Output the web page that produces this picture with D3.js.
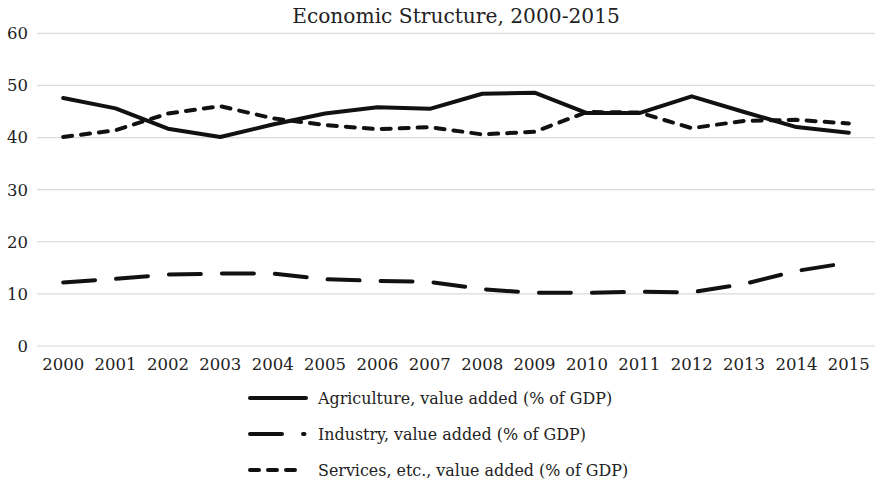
<!DOCTYPE html>
<html><head><meta charset="utf-8">
<script src="https://cdn.jsdelivr.net/npm/d3@7"></script>
<style>body{margin:0;background:#fff}svg{display:block}text{font-family:"DejaVu Serif",serif;fill:#222}</style>
</head><body>
<script>
const years = ["2000","2001","2002","2003","2004","2005","2006","2007","2008","2009","2010","2011","2012","2013","2014","2015"];
const agriculture = [47.6,45.6,41.7,40.1,42.5,44.6,45.8,45.5,48.4,48.6,44.7,44.7,47.9,44.9,42.0,40.9];
const industry = [12.2,12.9,13.7,13.9,13.9,12.8,12.5,12.3,10.9,10.2,10.2,10.4,10.3,11.9,14.4,16.0];
const services = [40.1,41.4,44.6,46.0,43.7,42.4,41.6,42.0,40.6,41.1,44.9,44.8,41.8,43.2,43.4,42.7];
const seriesNames = ["Agriculture, value added (% of GDP)","Industry, value added (% of GDP)","Services, etc., value added (% of GDP)"];
const yTicks = [0,10,20,30,40,50,60];
const title = "Economic Structure, 2000-2015";

const W=876,H=485;
const svg=d3.select("body").append("svg").attr("width",W).attr("height",H);
const x=d3.scaleBand().domain(years).range([37,875]);
const y=d3.scaleLinear().domain([0,60]).range([346,33.3]);
const fs=16.5;

// gridlines
svg.append("g").selectAll("line").data(yTicks).join("line")
  .attr("x1",37).attr("x2",875).attr("y1",d=>y(d)).attr("y2",d=>y(d))
  .attr("stroke","#d9d9d9").attr("stroke-width",1.2);
svg.append("g").selectAll("text").data(yTicks).join("text")
  .attr("x",28).attr("y",d=>y(d)).attr("dy","0.36em").attr("text-anchor","end")
  .attr("font-size",fs).text(d=>d);
svg.append("g").selectAll("text").data(years).join("text")
  .attr("x",d=>x(d)+x.bandwidth()/2).attr("y",370).attr("text-anchor","middle")
  .attr("font-size",fs).text(d=>d);
svg.append("text").attr("x",456).attr("y",23).attr("text-anchor","middle").attr("font-size",20.2).text(title);

const dashes=[null,"32,21","9,9"];
const legendEnd=[306,304.5,298];
const data=[agriculture,industry,services];
const line=d3.line().x((d,i)=>x(years[i])+x.bandwidth()/2).y(d=>y(d));
data.forEach((s,k)=>{
  svg.append("path").datum(s).attr("d",line).attr("fill","none").attr("stroke","#111")
    .attr("stroke-width",4).attr("stroke-linecap","round").attr("stroke-linejoin","round")
    .attr("stroke-dasharray",dashes[k]);
});
// legend
const lg=svg.append("g");
seriesNames.forEach((n,k)=>{
  const ly=398+k*36;
  lg.append("line").attr("x1",250).attr("x2",legendEnd[k]).attr("y1",ly).attr("y2",ly)
    .attr("stroke","#111").attr("stroke-width",4).attr("stroke-linecap","round")
    .attr("stroke-dasharray",dashes[k]);
  lg.append("text").attr("x",318).attr("y",ly).attr("dy","0.36em").attr("font-size",15.9).text(n);
});
</script>
</body></html>
